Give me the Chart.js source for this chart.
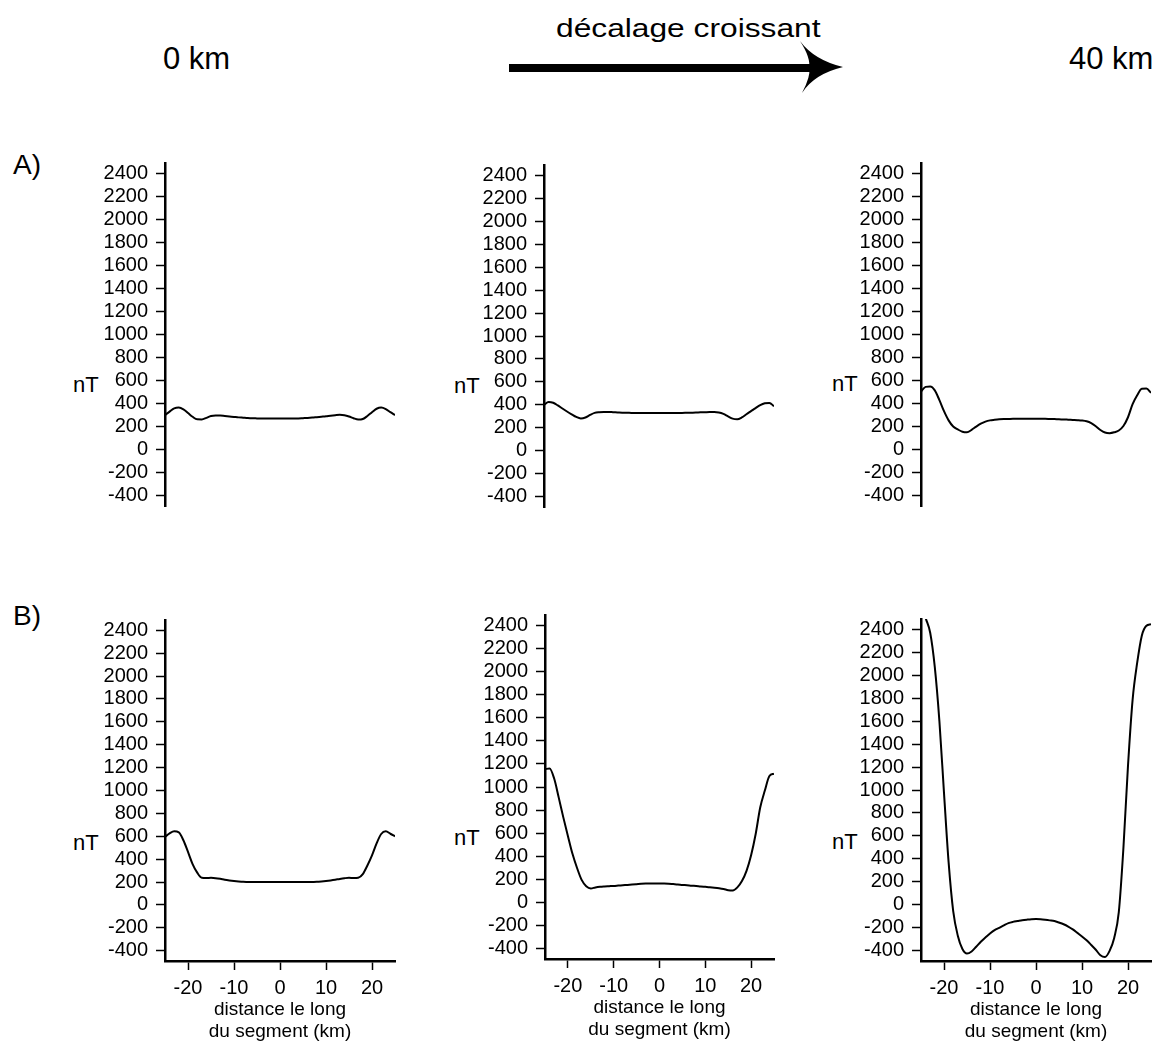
<!DOCTYPE html>
<html lang="fr">
<head>
<meta charset="utf-8">
<title>Anomalie magnétique le long du segment</title>
<script src="https://cdn.jsdelivr.net/npm/chart.js@4.4.1/dist/chart.umd.min.js"></script>
<style>
  body { margin: 0; background: #fff; }
  #page {
    position: relative;
    width: 1160px;
    height: 1046px;
    overflow: hidden;
    font-family: "Liberation Sans", Arial, sans-serif;
    color: #000;
  }
  .txt { position: absolute; line-height: 1; white-space: nowrap; }
  canvas { position: absolute; }
</style>
</head>
<body>
<div id="page">
  <div class="txt" style="left:163px;top:43px;font-size:31px">0 km</div>
  <div class="txt" style="left:556px;top:15px;font-size:26px;transform:scaleX(1.22);transform-origin:0 0">décalage croissant</div>
  <div class="txt" style="left:1069px;top:43px;font-size:31px">40 km</div>
  <svg style="position:absolute;left:0;top:0" width="1160" height="110">
    <rect x="509" y="64" width="302" height="8" fill="#000"/>
    <path d="M800 41 Q814 60 843 67 Q814 74 802 93 Q811 76 809 68 Q811 58 800 41 Z" fill="#000"/>
  </svg>

  <div class="txt" style="left:13px;top:151px;font-size:28px">A)</div>
  <div class="txt" style="left:13px;top:602px;font-size:28px">B)</div>

  <div class="txt" style="left:73px;top:374px;font-size:22px">nT</div>
  <div class="txt" style="left:454px;top:375px;font-size:22px">nT</div>
  <div class="txt" style="left:832px;top:373px;font-size:22px">nT</div>
  <div class="txt" style="left:73px;top:832px;font-size:22px">nT</div>
  <div class="txt" style="left:454px;top:827px;font-size:22px">nT</div>
  <div class="txt" style="left:832px;top:831px;font-size:22px">nT</div>
</div>

<script>
// distance le long du segment (km)
const distanceKm = [-25, -24, -23, -22, -21, -20, -19, -18, -17, -16, -15, -14, -13, -12, -11, -10, -9, -8, -7, -6, -5, -4, -3, -2, -1,
  0, 1, 2, 3, 4, 5, 6, 7, 8, 9, 10, 11, 12, 13, 14, 15, 16, 17, 18, 19, 20, 21, 22, 23, 24, 25];

const xTicks = [-20, -10, 0, 10, 20];
const yTicks = [-400, -200, 0, 200, 400, 600, 800, 1000, 1200, 1400, 1600, 1800, 2000, 2200, 2400];
const xTitle = ['distance le long', 'du segment (km)'];

// anomalies (nT), ligne A
const anomalyA0 = [300, 330, 358, 365, 350, 318, 285, 263, 262, 276, 292, 297, 296, 292, 288, 284, 280, 277, 274, 272, 271, 270, 270, 270, 270,
  270, 270, 270, 270, 271, 273, 275, 278, 282, 286, 290, 295, 299, 302, 299, 288, 272, 261, 266, 292, 325, 355, 365, 352, 325, 300];
const anomalyA20 = [400, 425, 418, 395, 368, 342, 318, 295, 282, 290, 312, 330, 336, 338, 338, 336, 334, 332, 331, 330, 329, 328, 328, 328, 328,
  328, 328, 328, 329, 330, 330, 331, 332, 333, 335, 336, 337, 337, 334, 322, 300, 280, 274, 290, 318, 345, 372, 398, 414, 417, 388];
const anomalyA40 = [505, 545, 548, 515, 430, 334, 254, 201, 175, 155, 150, 172, 200, 225, 243, 254, 259, 263, 265, 266, 267, 267, 268, 268, 268,
  268, 267, 267, 266, 265, 263, 262, 260, 258, 256, 253, 246, 230, 203, 170, 148, 143, 150, 166, 205, 281, 395, 472, 528, 530, 493];

// anomalies (nT), ligne B
const anomalyB0 = [595, 625, 643, 635, 565, 463, 357, 282, 237, 235, 237, 234, 228, 220, 214, 209, 205, 202, 201, 200, 200, 200, 200, 200, 200,
  200, 200, 200, 200, 200, 200, 200, 201, 202, 205, 209, 214, 220, 227, 233, 237, 235, 238, 270, 345, 433, 538, 620, 643, 622, 600];
const anomalyB20 = [1155, 1160, 1073, 908, 737, 576, 421, 298, 195, 140, 121, 130, 136, 139, 141, 143, 146, 149, 152, 155, 158, 161, 163, 164, 165,
  165, 164, 162, 159, 156, 152, 149, 145, 142, 138, 135, 132, 128, 123, 116, 106, 103, 130, 185, 273, 409, 593, 824, 969, 1095, 1115];
const anomalyB40 = [2650, 2500, 2370, 2070, 1600, 975, 371, -55, -270, -385, -425, -407, -366, -322, -286, -251, -221, -201, -180, -160, -149, -142, -135, -130, -126,
  -125, -127, -131, -136, -142, -155, -170, -190, -215, -245, -276, -310, -350, -392, -440, -455, -402, -289, -65, 492, 1212, 1786, 2109, 2345, 2431, 2445];

const Y_AXIS_W = 75;
const X_AXIS_H = 82;
const PAD = 20;

// axe y à axisX, zone de tracé jusqu'à right, de top à bottom
const panels = [
  { series: anomalyA0, axisX: 165, right: 395, top: 163, bottom: 506, showX: false },
  { series: anomalyA20, axisX: 544, right: 774, top: 165, bottom: 507, showX: false },
  { series: anomalyA40, axisX: 921, right: 1151, top: 163, bottom: 506, showX: false },
  { series: anomalyB0, axisX: 165, right: 395, top: 620, bottom: 961, showX: true },
  { series: anomalyB20, axisX: 545, right: 774, top: 615, bottom: 959, showX: true },
  { series: anomalyB40, axisX: 921, right: 1151, top: 619, bottom: 961, showX: true },
];

Chart.defaults.font.family = '"Liberation Sans", Arial, sans-serif';
Chart.defaults.color = '#000';

const page = document.getElementById('page');
panels.forEach(drawPanel);

function drawPanel(p) {
  const canvas = document.createElement('canvas');
  const w = Y_AXIS_W + (p.right - p.axisX) + PAD;
  const h = PAD + (p.bottom - p.top) + (p.showX ? X_AXIS_H : PAD);
  canvas.width = w;
  canvas.height = h;
  canvas.style.width = w + 'px';
  canvas.style.height = h + 'px';
  canvas.style.left = p.axisX - Y_AXIS_W + 'px';
  canvas.style.top = p.top - PAD + 'px';
  page.appendChild(canvas);

  const grid = {
    display: true,
    drawOnChartArea: false,
    drawTicks: true,
    tickLength: 9,
    tickColor: '#000',
    tickWidth: 1.5,
  };
  const border = { display: true, color: '#000', width: 2.5 };

  new Chart(canvas, {
    type: 'line',
    data: {
      datasets: [
        {
          data: distanceKm.map((x, i) => ({ x, y: p.series[i] })),
          borderColor: '#000',
          borderWidth: 2,
          pointRadius: 0,
          fill: false,
          cubicInterpolationMode: 'monotone',
        },
      ],
    },
    options: {
      responsive: false,
      animation: false,
      events: [],
      layout: { padding: { left: 0, top: PAD, right: PAD, bottom: p.showX ? 0 : PAD } },
      plugins: { legend: { display: false }, tooltip: { enabled: false } },
      scales: {
        x: {
          type: 'linear',
          min: -25,
          max: 25,
          display: p.showX,
          afterBuildTicks(scale) {
            scale.ticks = xTicks.map(value => ({ value }));
          },
          afterFit(scale) {
            if (p.showX) scale.height = X_AXIS_H;
          },
          grid,
          border,
          ticks: {
            autoSkip: false,
            maxRotation: 0,
            padding: 6,
            font: { size: 20 },
            callback: value => String(value),
          },
          title: {
            display: true,
            text: xTitle,
            padding: 0,
            font: { size: 19, lineHeight: 1.15 },
          },
        },
        y: {
          type: 'linear',
          min: -490,
          max: 2490,
          afterBuildTicks(scale) {
            scale.ticks = yTicks.map(value => ({ value }));
          },
          afterFit(scale) {
            scale.width = Y_AXIS_W;
          },
          grid,
          border,
          ticks: {
            autoSkip: false,
            padding: 8,
            font: { size: 20 },
            callback: value => String(value),
          },
        },
      },
    },
  });
}
</script>
</body>
</html>
